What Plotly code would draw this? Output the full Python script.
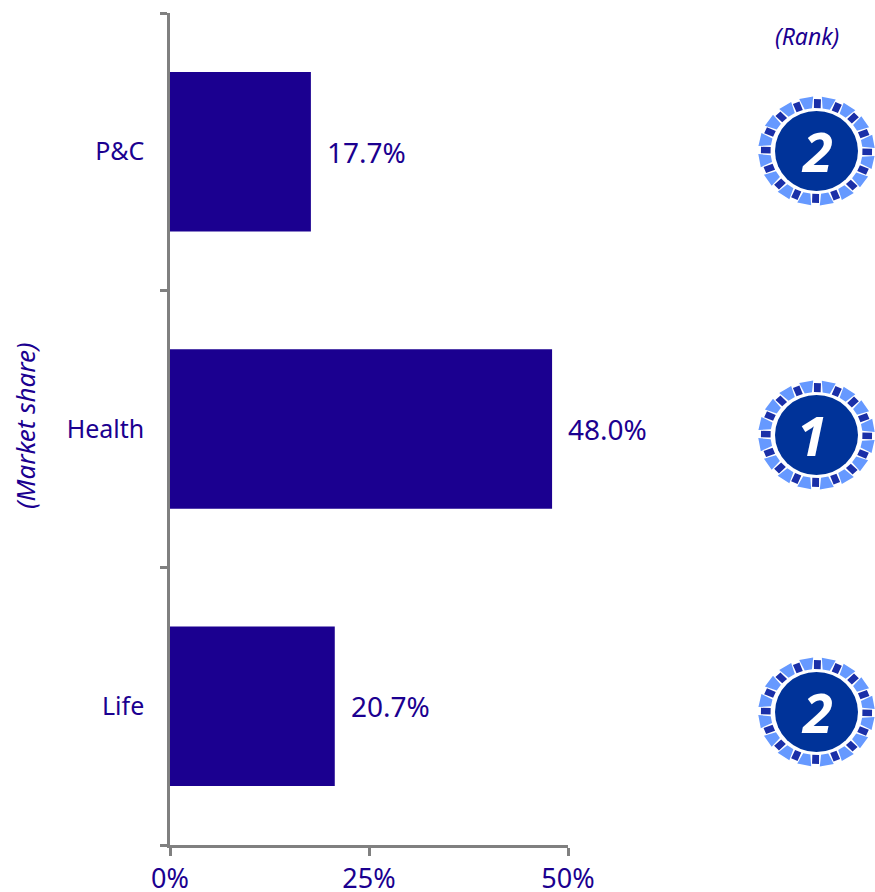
import math
import plotly.graph_objects as go

categories = ["Life", "Health", "P&C"]
shares = [20.7, 48.0, 17.7]
ranks = ["2", "1", "2"]
x_ticks = [0, 25, 50]
x_tick_labels = ["0%", "25%", "50%"]

W, H = 875, 892
L, R, T, B = 170, 307, 13, 47
INK = "#1B0090"
AXIS = "#808080"
FONT = "Noto Sans"
badge_centers_px = [(816.5, 712), (816.5, 435), (816.5, 151)]


def to_paper(x, y):
    pw, ph = W - L - R, H - T - B
    return (x - L) / pw, 1 - (y - T) / ph


def polygon(cx, cy, pts):
    out = []
    for i, (a, r) in enumerate(pts):
        rad = math.radians(a)
        X, Y = to_paper(cx + 1.07 * r * math.sin(rad), cy - r * math.cos(rad))
        out.append(("M" if i == 0 else "L") + f"{X:.5f},{Y:.5f}")
    return " ".join(out) + " Z"


def badge(cx, cy):
    light, dark = [], []
    for k in range(16):
        a = k * 22.5 + 1
        b = a + 11.25
        light.append(polygon(cx, cy, [(b - 7.0, 54.5), (b + 7.0, 54.5), (b + 4.6, 43), (b - 4.6, 43)]))
        dark.append(polygon(cx, cy, [(a - 3.6, 52), (a + 3.6, 52), (a + 4.2, 43), (a - 4.2, 43)]))
    x0, y1 = to_paper(cx - 41.5, cy - 40)
    x1, y0 = to_paper(cx + 41.5, cy + 40)
    return [
        dict(type="path", xref="paper", yref="paper", path=" ".join(light), fillcolor="#6699FF", line_width=0),
        dict(type="path", xref="paper", yref="paper", path=" ".join(dark), fillcolor="#1A2FA8", line_width=0),
        dict(type="circle", xref="paper", yref="paper", x0=x0, x1=x1, y0=y0, y1=y1, fillcolor="#003399", line_width=0),
    ]


fig = go.Figure(go.Bar(x=shares, y=categories, orientation="h", marker=dict(color=INK, line_width=0), width=0.575))

shapes, annotations = [], []
for c, rank in zip(badge_centers_px, ranks):
    shapes += badge(*c)
    ax, ay = to_paper(c[0] - (5 if rank == "1" else 0), c[1])
    annotations.append(dict(text=f"<b><i>{rank}</i></b>", x=ax, y=ay, xref="paper", yref="paper", showarrow=False,
                            xanchor="center", yanchor="middle",
                            font=dict(family=FONT, size=54, color="white")))

for cat, val in zip(categories, shares):
    annotations.append(dict(text=f"{val:.1f}%", x=val, y=cat, xref="x", yref="y", xanchor="left", yanchor="middle",
                            xshift=14, showarrow=False, font=dict(family=FONT, size=28, color=INK)))

ax_, ay_ = to_paper(807, 36)
annotations.append(dict(text="<i>(Rank)</i>", x=ax_, y=ay_, xref="paper", yref="paper", showarrow=False,
                        xanchor="center", yanchor="middle", font=dict(family=FONT, size=23, color=INK)))
ax_, ay_ = to_paper(25, 426)
annotations.append(dict(text="<i>(Market share)</i>", x=ax_, y=ay_, xref="paper", yref="paper", showarrow=False,
                        xanchor="center", yanchor="middle", textangle=-90, font=dict(family=FONT, size=26, color=INK)))

fig.update_layout(
    width=W, height=H, margin=dict(l=L, r=R, t=T, b=B, autoexpand=False),
    paper_bgcolor="white", plot_bgcolor="white", showlegend=False,
    font=dict(family=FONT, size=25, color=INK),
    shapes=shapes, annotations=annotations,
)
fig.update_xaxes(range=[0, 50], tickvals=x_ticks, ticktext=x_tick_labels, showgrid=False, zeroline=False,
                 showline=True, linecolor=AXIS, linewidth=2.5, ticks="outside", ticklen=8, tickwidth=2.5, tickcolor=AXIS,
                 ticklabelstandoff=0, tickfont=dict(family=FONT, size=27, color=INK))
fig.update_yaxes(type="category", categoryorder="array", categoryarray=categories, range=[-0.5, 2.5],
                 tickson="boundaries", showgrid=False, zeroline=False,
                 showline=True, linecolor=AXIS, linewidth=2.5, ticks="outside", ticklen=7, tickwidth=2.5, tickcolor=AXIS,
                 ticklabelstandoff=18, tickfont=dict(family=FONT, size=25, color=INK))

fig.write_html("out.html", config=dict(displayModeBar=False), default_width=f"{W}px", default_height=f"{H}px",
               post_script="document.body.style.margin='0';document.documentElement.style.overflow='hidden';")
